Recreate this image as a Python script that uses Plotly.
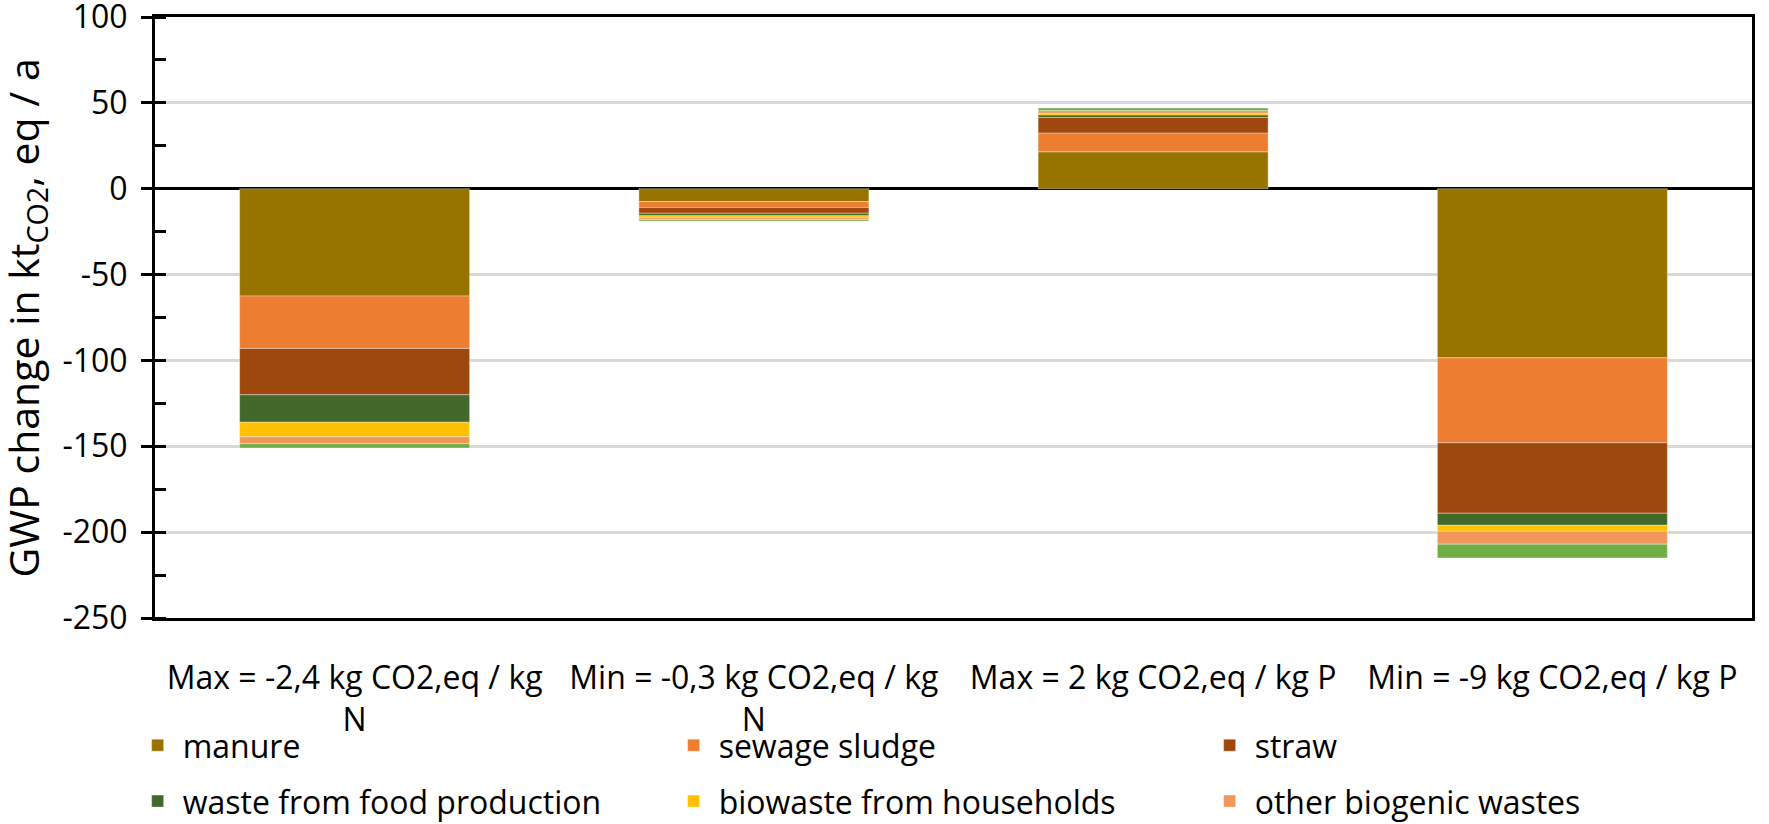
import plotly.graph_objects as go

categories = ["Max = -2,4 kg CO2,eq / kg<br>N", "Min = -0,3 kg CO2,eq / kg<br>N",
              "Max = 2 kg CO2,eq / kg P", "Min = -9 kg CO2,eq / kg P"]
cat_keys = ["c1", "c2", "c3", "c4"]

series_names = ["manure", "sewage sludge", "straw", "waste from food production",
                "biowaste from households", "other biogenic wastes", "other"]
manure = [-62.5, -7.5, 21.5, -98.5]
sewage_sludge = [-30.5, -3.5, 11.0, -49.5]
straw = [-27.0, -3.3, 9.0, -41.0]
food_waste = [-16.0, -1.5, 1.5, -7.0]
biowaste = [-8.5, -1.2, 1.0, -3.5]
other_biogenic = [-4.0, -1.0, 1.5, -7.5]
other_green = [-2.5, -0.8, 1.5, -8.0]
series_values = [manure, sewage_sludge, straw, food_waste, biowaste, other_biogenic, other_green]
colors = ["#977300", "#ED7D31", "#9E480E", "#43682B", "#FFC000", "#F1975A", "#70AD47"]
legend_ids = ["legend", "legend", "legend", "legend2", "legend2", "legend2", None]

y_tickvals = [100, 50, 0, -50, -100, -150, -200, -250]
y_ticktext = ["100", "50", "0", "-50", "-100", "-150", "-200", "-250"]
y_title = "GWP change in kt<sub>CO2</sub>, eq / a"

FONT = "Open Sans"
FS = 32

fig = go.Figure()
for name, vals, col, lg in zip(series_names, series_values, colors, legend_ids):
    fig.add_trace(go.Bar(
        x=cat_keys, y=vals, name=name,
        marker=dict(color=col, line=dict(color="rgba(255,255,255,0.35)", width=1)),
        showlegend=lg is not None,
        legend=lg if lg else "legend",
    ))

fig.update_layout(
    width=1769, height=824,
    barmode="relative", bargap=0.424,
    plot_bgcolor="white", paper_bgcolor="white",
    margin=dict(l=155, r=17, t=17, b=206, autoexpand=False),
    font=dict(family=FONT, size=FS, color="black"),
    xaxis=dict(
        type="category", tickvals=cat_keys, ticktext=categories,
        showline=True, linecolor="black", linewidth=3, mirror=True,
        ticks="", ticklabelstandoff=30, showgrid=False,
        tickfont=dict(family=FONT, size=FS, color="black"),
    ),
    yaxis=dict(
        range=[-250, 100], tickvals=y_tickvals, ticktext=y_ticktext,
        ticklabeloverflow="allow",
        showline=True, linecolor="black", linewidth=3, mirror=True,
        ticks="outside", ticklen=11, tickwidth=3, tickcolor="black",
        ticklabelstandoff=7,
        showgrid=True, gridcolor="#d9d9d9", gridwidth=3,
        zeroline=True, zerolinecolor="black", zerolinewidth=3,
        minor=dict(dtick=25, ticks="inside", ticklen=11, tickwidth=3, tickcolor="black", showgrid=False),
        tickfont=dict(family=FONT, size=FS, color="black"),
    ),
    annotations=[dict(
        text=y_title, textangle=-90, showarrow=False,
        xref="paper", yref="paper", x=-0.0808, y=0.5,
        xanchor="center", yanchor="middle",
        font=dict(family=FONT, size=41, color="black"),
    )],
    legend=dict(orientation="h", x=-0.014, xanchor="left", y=-0.212, yanchor="middle",
                entrywidth=481, entrywidthmode="pixels", itemwidth=40,
                font=dict(family=FONT, size=FS),
                bgcolor="rgba(0,0,0,0)", traceorder="normal"),
    legend2=dict(orientation="h", x=-0.014, xanchor="left", y=-0.305, yanchor="middle",
                 entrywidth=481, entrywidthmode="pixels", itemwidth=40,
                 font=dict(family=FONT, size=FS),
                 bgcolor="rgba(0,0,0,0)", traceorder="normal"),
)

# remove the browser's default 8px body margin so the figure fills the window exactly
fig.write_html("out.html", config={"displayModeBar": False},
               post_script="document.body.style.margin='0px';")
